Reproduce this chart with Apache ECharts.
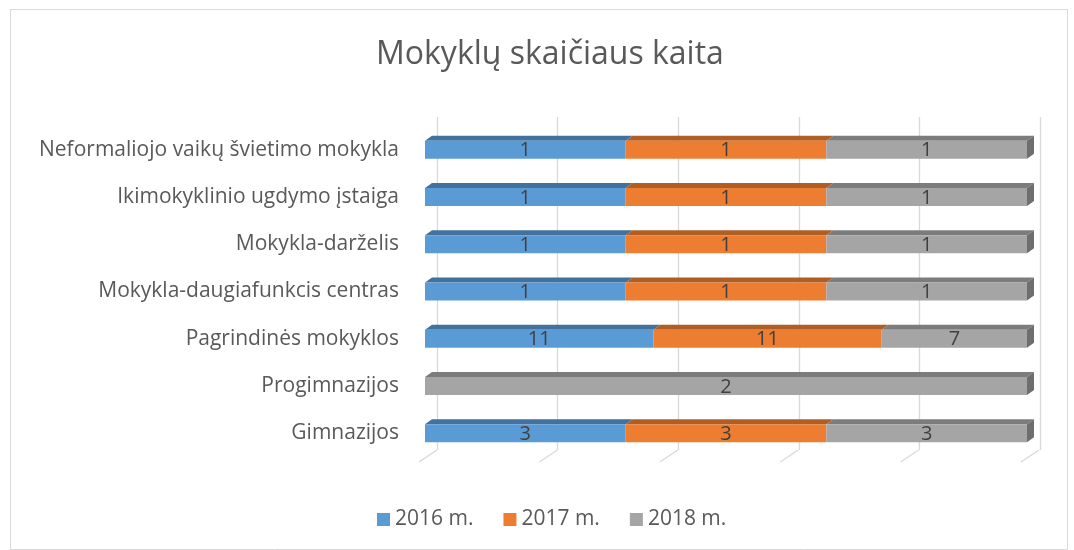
<!DOCTYPE html>
<html><head><meta charset="utf-8">
<script src="https://cdn.jsdelivr.net/npm/echarts@6/dist/echarts.min.js"></script>
<style>html,body{margin:0;padding:0;background:#fff}#c{width:1074px;height:550px}</style>
</head><body><div id="c"></div>
<script>
const categories = ['Gimnazijos','Progimnazijos','Pagrindinės mokyklos','Mokykla-daugiafunkcis centras','Mokykla-darželis','Ikimokyklinio ugdymo įstaiga','Neformaliojo vaikų švietimo mokykla'];
const y2016 = [3,0,11,1,1,1,1];
const y2017 = [3,0,11,1,1,1,1];
const y2018 = [3,2,7,1,1,1,1];
const seriesNames = ['2016 m.','2017 m.','2018 m.'];
const gridTicks = [0,0.2,0.4,0.6,0.8,1];

const values = [y2016, y2017, y2018];
const frontColors = ['#5B9BD5','#ED7D31','#A5A5A5'];
const topColors = ['#41719C','#B15E24','#7C7C7C'];
const sideColors = ['#41719C','#B15E24','#6E6E6E'];
const FONT = '"Open Sans", "Noto Sans", sans-serif';

const totals = categories.map((_, i) => values.reduce((s, arr) => s + arr[i], 0));
const DX = 7, DY = 5;

const barSeries = values.map((arr, si) => {
  const data = arr.map((v, i) => {
    let start = 0;
    for (let k = 0; k < si; k++) start += values[k][i];
    const s = start / totals[i], e = (start + v) / totals[i];
    return [s, e, i, v];
  });
  return {
    type: 'custom',
    name: seriesNames[si],
    xAxisIndex: 0, yAxisIndex: 0,
    itemStyle: { color: frontColors[si] },
    encode: { x: [0, 1], y: 2 },
    data: data,
    z: 5,
    renderItem: function (params, api) {
      const s = api.value(0), e = api.value(1), ci = api.value(2), v = api.value(3);
      if (v <= 0) return null;
      const p0 = api.coord([s, ci]);
      const p1 = api.coord([e, ci]);
      const band = api.size([0, 1])[1];
      const h = band * 0.38;
      const x0 = p0[0], x1 = p1[0];
      const yt = p0[1] - h / 2, yb = p0[1] + h / 2;
      const children = [
        { type: 'polygon', shape: { points: [[x0, yt], [x1, yt], [x1 + DX, yt - DY], [x0 + DX, yt - DY]] }, style: { fill: topColors[si] } },
        { type: 'rect', shape: { x: x0, y: yt, width: x1 - x0, height: h }, style: { fill: frontColors[si] } }
      ];
      if (e >= 0.9999) {
        children.push({ type: 'polygon', shape: { points: [[x1, yt], [x1 + DX, yt - DY], [x1 + DX, yb - DY], [x1, yb]] }, style: { fill: sideColors[si] } });
      }
      children.push({ type: 'text', style: { text: String(v), x: (x0 + x1) / 2, y: p0[1] + 1, align: 'center', verticalAlign: 'middle', fill: '#404040', font: '20px ' + FONT } });
      return { type: 'group', children: children };
    }
  };
});

const floorSeries = {
  type: 'custom',
  name: 'floor',
  xAxisIndex: 0, yAxisIndex: 0,
  encode: { x: 0 },
  data: gridTicks.map(t => [t]),
  z: 1,
  silent: true,
  renderItem: function (params, api) {
    const c = api.coord([api.value(0), 0]);
    const band = api.size([0, 1])[1];
    const yb = c[1] + band / 2;
    return { type: 'line', shape: { x1: c[0] - 6, y1: yb + 5, x2: c[0] + 12, y2: yb - 7 }, style: { stroke: '#D9D9D9', lineWidth: 1.3 } };
  }
};

const chart = echarts.init(document.getElementById('c'), null, { renderer: 'canvas' });
chart.setOption({
  animation: false,
  backgroundColor: '#fff',
  graphic: [{ type: 'rect', shape: { x: 10.5, y: 9.5, width: 1057, height: 540 }, style: { fill: 'none', stroke: '#D9D9D9', lineWidth: 1 }, z: -10 }],
  title: {
    text: 'Mokyklų skaičiaus kaita',
    left: 371, top: 34,
    textStyle: { fontFamily: FONT, fontSize: 32, fontWeight: 'normal', color: '#595959' }
  },
  legend: {
    data: seriesNames,
    bottom: 15, left: 372,
    icon: 'rect', itemWidth: 13, itemHeight: 13, itemGap: 30, itemTextGap: 5,
    textStyle: { fontFamily: FONT, fontSize: 21, color: '#595959' }
  },
  grid: [
    { left: 425, right: 47, top: 126, bottom: 93, containLabel: false },
    { left: 437, right: 34, top: 117, bottom: 100, containLabel: false }
  ],
  xAxis: [
    { type: 'value', gridIndex: 0, min: 0, max: 1, interval: 0.2, axisLabel: { show: false }, splitLine: { show: false }, axisLine: { show: false }, axisTick: { show: false } },
    { type: 'value', gridIndex: 1, min: 0, max: 1, interval: 0.2, axisLabel: { show: false }, splitLine: { show: true, lineStyle: { color: '#D9D9D9', width: 1.3 } }, axisLine: { show: false }, axisTick: { show: false } }
  ],
  yAxis: [
    { type: 'category', gridIndex: 0, data: categories, axisLine: { show: false }, axisTick: { show: false },
      axisLabel: { fontFamily: FONT, fontSize: 21, color: '#595959', margin: 26 } },
    { type: 'category', gridIndex: 1, data: categories, show: false }
  ],
  series: [floorSeries].concat(barSeries).concat([{ type: 'scatter', xAxisIndex: 1, yAxisIndex: 1, data: [], silent: true }])
});
</script>
</body></html>
